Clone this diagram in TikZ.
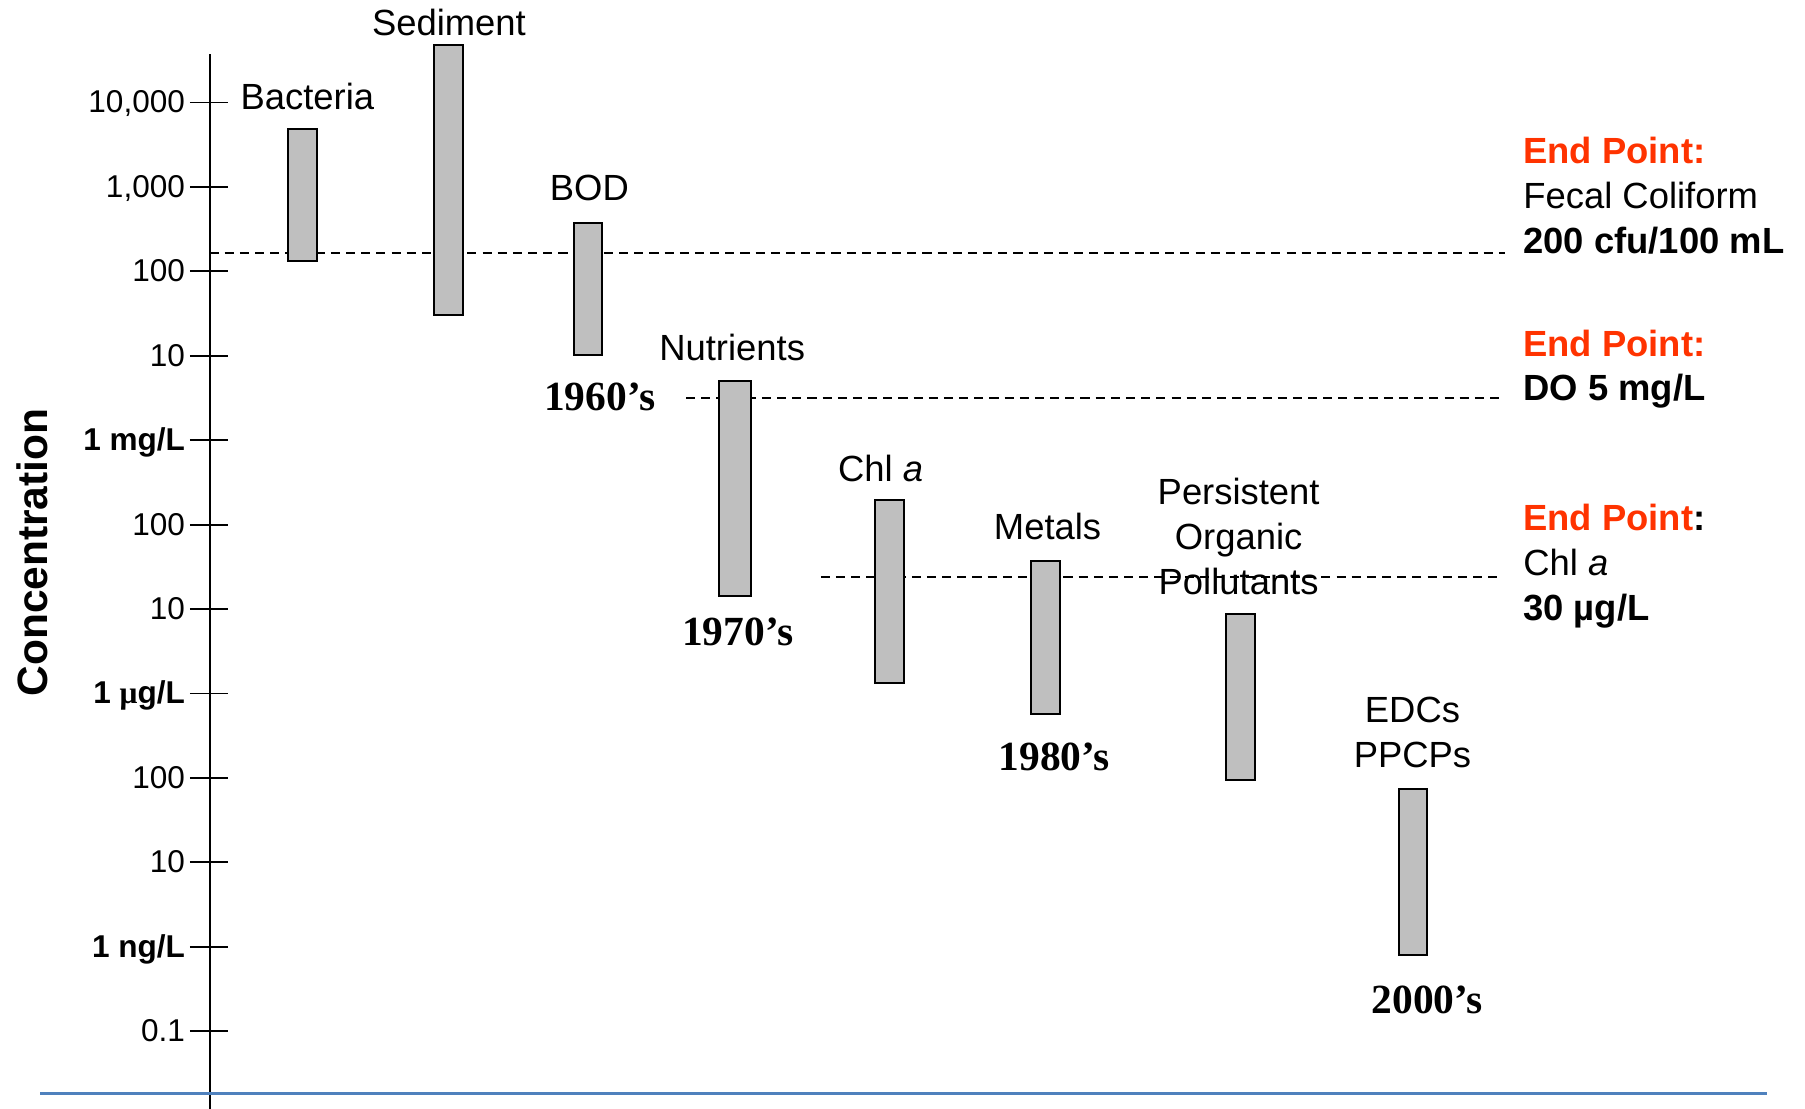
\documentclass[tikz,border=0pt]{standalone}
\usepackage{fontspec}
\setmainfont{Liberation Sans}
\newfontfamily\decfont{Liberation Serif}
\definecolor{endred}{RGB}{255,51,0}
\definecolor{baseblue}{RGB}{79,129,189}
\begin{document}
\begin{tikzpicture}[x=0.02cm,y=-0.02cm,
    bar/.style={draw,fill=black!25,line width=1pt},
    goal/.style={dash pattern=on 4.5pt off 3pt,line width=0.8pt},
    axtick/.style={line width=0.9pt},
    lbl/.style={inner sep=0pt,font=\fontsize{18}{22.2}\selectfont,align=center},
    decade/.style={inner sep=0pt,anchor=base,font=\decfont\bfseries\fontsize{20.5}{24}\selectfont},
    endpt/.style={inner sep=0pt,anchor=north west,align=left,font=\fontsize{18}{22.2}\selectfont},
    ticklbl/.style={inner sep=0pt,anchor=base east,font=\fontsize{15.6}{18}\selectfont}]
  \useasboundingbox (0,0) rectangle (1568,963);
  \coordinate (fc1) at (182,220);  \coordinate (fc2) at (1307,220);
  \coordinate (do1) at (596,346);  \coordinate (do2) at (1307,346);
  \coordinate (ch1) at (713,501);  \coordinate (ch2) at (1305,501);
  \draw[goal] (fc1) -- (fc2);
  \draw[goal] (do1) -- (do2);
  \draw[goal] (ch1) -- (ch2);
  \draw[bar] (250,112) rectangle (275,227);
  \draw[bar] (377,39) rectangle (402,274);
  \draw[bar] (499,194) rectangle (523,308);
  \draw[bar] (625,331) rectangle (652,518);
  \draw[bar] (760,434) rectangle (785,593);
  \draw[bar] (896,487) rectangle (921,620);
  \draw[bar] (1065,533) rectangle (1090,678);
  \draw[bar] (1215,685) rectangle (1240,830);
  \coordinate (axtop) at (182,47);
  \coordinate (axbot) at (182,963);
  \draw[line width=1pt] (axtop) -- (axbot);
  \coordinate (bl1) at (35,950);
  \coordinate (bl2) at (1535,950);
  \draw[baseblue,line width=1.6pt] (bl1) -- (bl2);
  \foreach \lab [count=\k from 0] in {{10,000},{1,000},100,10,\textbf{1 mg/L},100,10,
      \textbf{1 {\decfont μ}g/L},100,10,\textbf{1 ng/L},0.1} {
    \draw[axtick] (165,{89+73.35*\k}) -- (198,{89+73.35*\k});
    \node[ticklbl] (tick\k) at (161,{89+73.35*\k+9}) {\lab};
  }
  \node[rotate=90,inner sep=0pt,font=\bfseries\fontsize{21}{25}\selectfont] (conc) at (28,480) {Concentration};
  \node[lbl,anchor=base] (bact) at (267,95) {Bacteria};
  \node[lbl,anchor=base] (sed) at (390,31) {Sediment};
  \node[lbl,anchor=base] (bod) at (512,174) {BOD};
  \node[lbl,anchor=base] (nut) at (636,313) {Nutrients};
  \node[lbl,anchor=base] (chl) at (765,418) {Chl \textit{a}};
  \node[lbl,anchor=base] (met) at (910,469) {Metals};
  \node[lbl,anchor=north] (pop) at (1076,415) {Persistent\\Organic\\Pollutants};
  \node[lbl,anchor=north] (edc) at (1227,605) {EDCs\\PPCPs};
  \node[decade] (d60) at (521,357) {1960’s};
  \node[decade] (d70) at (641,561) {1970’s};
  \node[decade] (d80) at (916,669) {1980’s};
  \node[decade] (d00) at (1240,880) {2000’s};
  \node[endpt] (ep1) at (1323,119) {{\color{endred}\bfseries End Point:}\\Fecal Coliform\\\textbf{200 cfu/100 mL}};
  \node[endpt] (ep2) at (1323,286) {{\color{endred}\bfseries End Point:}\\\textbf{DO 5 mg/L}};
  \node[endpt] (ep3) at (1323,438) {{\color{endred}\bfseries End Point}\textbf{:}\\Chl \textit{a}\\\textbf{30 µg/L}};
\end{tikzpicture}
\end{document}
